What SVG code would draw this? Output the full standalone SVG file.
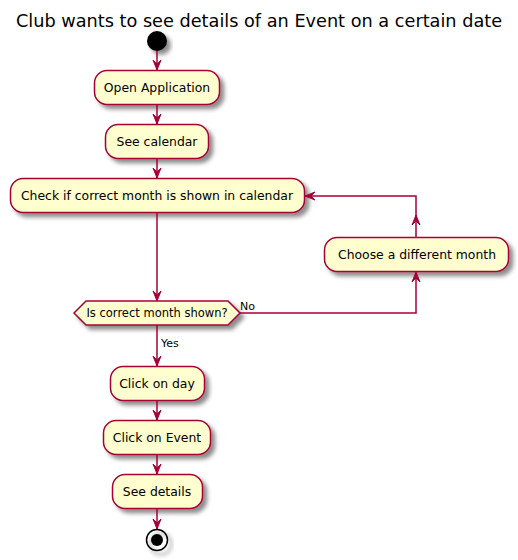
<svg xmlns="http://www.w3.org/2000/svg" width="518" height="560" viewBox="0 0 518 560">
<style>
.n{fill:#FEFECE;stroke:#A80036;stroke-width:1.5;filter:url(#sh)}
.t{font-family:"DejaVu Sans",sans-serif;font-size:12.4px;fill:#000;text-anchor:middle}
.l{font-family:"DejaVu Sans",sans-serif;font-size:11px;fill:#000}
.e{fill:none;stroke:#A80036;stroke-width:1.5}
.a{fill:#A80036;stroke:#A80036;stroke-width:1}
</style>
<defs>
<filter id="sh" x="-20%" y="-20%" width="150%" height="160%">
<feGaussianBlur in="SourceAlpha" stdDeviation="2"/>
<feOffset dx="4" dy="4" result="b"/>
<feColorMatrix in="b" type="matrix" values="0 0 0 0 0  0 0 0 0 0  0 0 0 0 0  0 0 0 0.45 0" result="c"/>
<feMerge><feMergeNode in="c"/><feMergeNode in="SourceGraphic"/></feMerge>
</filter>
</defs>
<text x="259" y="27" style="font-family:'DejaVu Sans',sans-serif;font-size:17.7px;text-anchor:middle">Club wants to see details of an Event on a certain date</text>
<g id="start"><circle cx="157" cy="41" r="10" fill="#000" filter="url(#sh)"/></g>
<g id="open"><rect class="n" x="94.5" y="70.5" width="125" height="34" rx="12.5"/><text class="t" x="157" y="92">Open Application</text></g>
<g id="calendar"><rect class="n" x="105.5" y="124.5" width="103" height="34" rx="12.5"/><text class="t" x="157" y="146">See calendar</text></g>
<g id="check"><rect class="n" x="10.5" y="178.5" width="294" height="34" rx="12.5"/><text class="t" x="157" y="200">Check if correct month is shown in calendar</text></g>
<g id="choose"><rect class="n" x="324.5" y="237.5" width="184" height="34" rx="12.5"/><text class="t" x="417" y="259">Choose a different month</text></g>
<g id="decision"><polygon class="n" points="74,313 86,301 228,301 240,313 228,325 86,325"/><text class="t" x="157" y="317" style="font-size:11.5px">Is correct month shown?</text></g>
<g id="day"><rect class="n" x="110.5" y="366.5" width="94" height="34" rx="12.5"/><text class="t" x="157" y="388">Click on day</text></g>
<g id="event"><rect class="n" x="103.5" y="420.5" width="107" height="34" rx="12.5"/><text class="t" x="157" y="442">Click on Event</text></g>
<g id="details"><rect class="n" x="112.5" y="474.5" width="90" height="34" rx="12.5"/><text class="t" x="157" y="496">See details</text></g>
<g id="end"><circle cx="157" cy="540" r="10.5" fill="none" stroke="#000" stroke-width="1.5" filter="url(#sh)"/><circle cx="157" cy="540" r="6" fill="#000"/></g>
<g id="connectors">
<line class="e" x1="157" y1="51" x2="157" y2="70"/>
<polygon class="a" points="153,60 157,70 161,60 157,64"/>
<line class="e" x1="157" y1="104.5" x2="157" y2="124"/>
<polygon class="a" points="153,114 157,124 161,114 157,118"/>
<line class="e" x1="157" y1="158.5" x2="157" y2="178"/>
<polygon class="a" points="153,168 157,178 161,168 157,172"/>
<line class="e" x1="157" y1="212.5" x2="157" y2="301"/>
<polygon class="a" points="153,291 157,301 161,291 157,295"/>
<polyline class="e" points="240,313 416,313 416,272"/>
<polygon class="a" points="412,282 416,272 420,282 416,278"/>
<polyline class="e" points="416,237.5 416,196 305,196"/>
<polygon class="a" points="412,225 416,215 420,225 416,221"/>
<polygon class="a" points="315,192 305,196 315,200 311,196"/>
<text class="l" x="240" y="310">No</text>
<line class="e" x1="157" y1="325" x2="157" y2="366"/>
<polygon class="a" points="153,356 157,366 161,356 157,360"/>
<text class="l" x="161" y="347">Yes</text>
<line class="e" x1="157" y1="400.5" x2="157" y2="420"/>
<polygon class="a" points="153,410 157,420 161,410 157,414"/>
<line class="e" x1="157" y1="454.5" x2="157" y2="474"/>
<polygon class="a" points="153,464 157,474 161,464 157,468"/>
<line class="e" x1="157" y1="508.5" x2="157" y2="529"/>
<polygon class="a" points="153,519 157,529 161,519 157,523"/>
</g>
</svg>
